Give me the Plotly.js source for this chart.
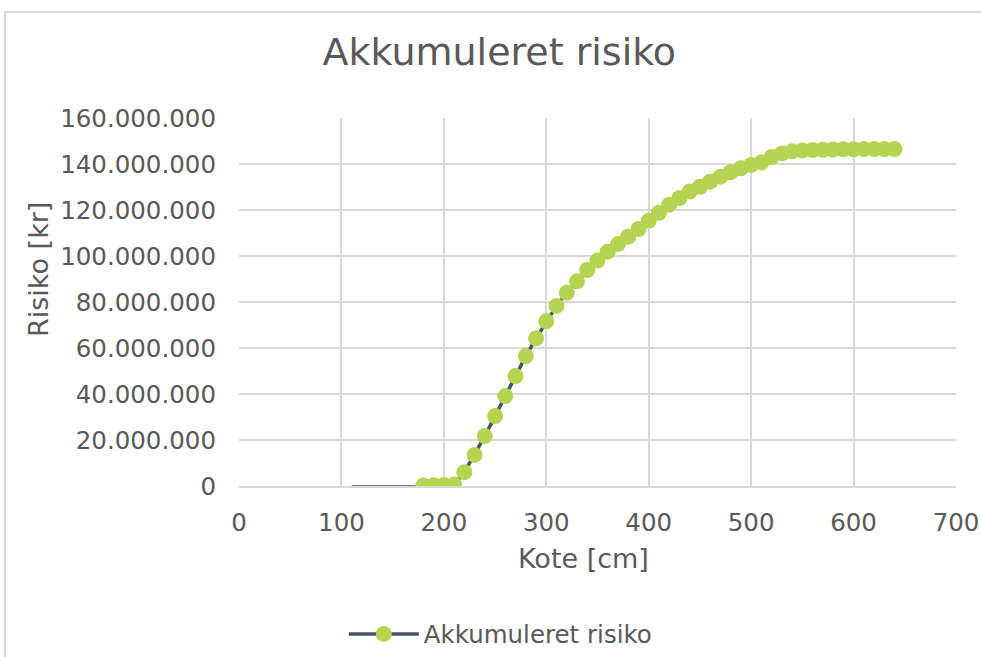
<!DOCTYPE html>
<html>
<head>
<meta charset="utf-8">
<script src="https://cdn.plot.ly/plotly-3.0.1.min.js"></script>
<style>
html,body{margin:0;padding:0;background:#fff;}
#wrap{position:relative;width:981px;height:657px;overflow:hidden;}
#chart{width:981px;height:657px;}
#frame{position:absolute;left:4px;top:11px;width:1000px;height:700px;border-left:2px solid #d9d9d9;border-top:2px solid #d9d9d9;pointer-events:none;}
</style>
</head>
<body>
<div id="wrap"><div id="chart"></div><div id="frame"></div></div>
<script>
var kote = [180,190,200,210,220,230,240,250,260,270,280,290,300,310,320,330,340,350,360,370,380,390,400,410,420,430,440,450,460,470,480,490,500,510,520,530,540,550,560,570,580,590,600,610,620,630,640];
var risikoMio = [0.2,0.3,0.4,0.6,6.0,13.5,21.7,30.4,39.1,47.8,56.5,64.2,71.6,78.3,84.0,89.0,93.9,98.0,101.9,105.2,108.4,111.7,115.3,118.8,122.3,125.2,128.0,130.1,132.3,134.5,136.4,138.1,139.6,140.7,143.0,144.6,145.5,145.9,146.1,146.2,146.3,146.4,146.4,146.5,146.5,146.5,146.5];
var risiko = risikoMio.map(function(v){return v*1e6;});
var leadKote = [110,180];
var leadRisiko = [0,0];
var seriesName = 'Akkumuleret risiko';
var chartTitle = 'Akkumuleret risiko';
var xTitle = 'Kote [cm]';
var yTitle = 'Risiko [kr]';

var font = 'DejaVu Sans, Verdana, sans-serif';
var txt = '#595959';
var grid = '#d9d9d9';

var traces = [
  {x: leadKote, y: leadRisiko, mode: 'lines', line: {color: '#44546a', width: 1.3}, showlegend: false, hoverinfo: 'skip'},
  {x: kote, y: risiko, name: seriesName, mode: 'lines+markers',
   line: {color: '#44546a', width: 3.5},
   marker: {color: '#b5d452', size: 16, line: {color: '#b5d452', width: 0}}}
];

var layout = {
  width: 981, height: 657,
  paper_bgcolor: '#fff', plot_bgcolor: '#fff',
  separators: ',.',
  font: {family: font, color: txt, size: 24},
  margin: {l: 239, r: 25, t: 118, b: 171, pad: 0, autoexpand: false},
  title: {text: chartTitle, font: {family: font, size: 38, color: txt}, x: 0.509, xref: 'container', y: 0.922, yref: 'container', yanchor: 'middle', xanchor: 'center', automargin: false},
  xaxis: {range: [0, 700], dtick: 100, tick0: 0, showgrid: true, gridcolor: grid, gridwidth: 2, automargin: false,
          showline: true, linecolor: grid, linewidth: 2, zeroline: false, ticks: '',
          tickfont: {family: font, size: 24.5, color: txt}, ticklabelstandoff: 14},
  yaxis: {range: [0, 160e6], dtick: 20e6, tick0: 0, tickformat: ',d', showgrid: true, gridcolor: grid, gridwidth: 2, automargin: false,
          showline: false, zeroline: false, ticks: '',
          tickfont: {family: font, size: 24.5, color: txt}, ticklabelstandoff: 22},
  showlegend: true,
  legend: {orientation: 'h', x: 0.51, xanchor: 'center', xref: 'container', y: 1 - 634/657, yref: 'container', yanchor: 'middle', itemwidth: 70,
           font: {family: font, size: 24.5, color: txt}},
  annotations: [
    {text: xTitle, xref: 'paper', yref: 'paper', x: (583-239)/717, y: -(558-486)/368, showarrow: false, xanchor: 'center', yanchor: 'middle', font: {family: font, size: 27, color: txt}},
    {text: yTitle, xref: 'paper', yref: 'paper', x: -(239-38)/717, y: (486-270)/368, showarrow: false, textangle: -90, xanchor: 'center', yanchor: 'middle', font: {family: font, size: 27, color: txt}}
  ]
};

Plotly.newPlot('chart', traces, layout, {displayModeBar: false, staticPlot: true});
</script>
</body>
</html>
